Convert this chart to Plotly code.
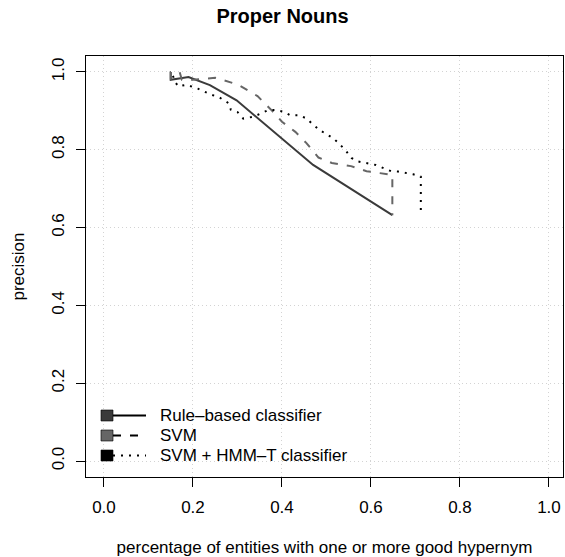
import plotly.graph_objects as go

# ---- data ----
rule_x = [0.150, 0.150, 0.190, 0.238, 0.298, 0.470, 0.648]
rule_y = [1.000, 0.980, 0.987, 0.966, 0.927, 0.761, 0.632]

svm_x = [0.150, 0.150, 0.170, 0.175, 0.200, 0.250, 0.300, 0.345, 0.378, 0.400,
         0.430, 0.455, 0.482, 0.512, 0.555, 0.590, 0.620, 0.648, 0.648]
svm_y = [0.980, 1.000, 1.000, 0.980, 0.980, 0.985, 0.968, 0.938, 0.900, 0.872,
         0.846, 0.817, 0.780, 0.766, 0.758, 0.745, 0.740, 0.735, 0.632]

hmm_x = [0.155, 0.160, 0.167, 0.186, 0.211, 0.238, 0.260, 0.281, 0.285, 0.300,
         0.313, 0.336, 0.350, 0.369, 0.387, 0.403, 0.418, 0.438, 0.454, 0.469,
         0.484, 0.500, 0.515, 0.530, 0.544, 0.556, 0.571, 0.611, 0.628, 0.645,
         0.661, 0.678, 0.695, 0.712, 0.712]
hmm_y = [0.990, 0.974, 0.963, 0.967, 0.957, 0.943, 0.934, 0.919, 0.903, 0.897,
         0.880, 0.885, 0.892, 0.902, 0.902, 0.898, 0.889, 0.889, 0.881, 0.865,
         0.851, 0.840, 0.830, 0.814, 0.797, 0.779, 0.770, 0.761, 0.752, 0.745,
         0.744, 0.741, 0.737, 0.731, 0.641]

series_names = ["Rule\u2013based classifier", "SVM", "SVM + HMM\u2013T classifier"]
series_colors = ["#3a3a3a", "#666666", "#000000"]
series_dash = ["solid", "8px,9px", "2px,6px"]

tick_vals = [0.0, 0.2, 0.4, 0.6, 0.8, 1.0]
tick_text = ["0.0", "0.2", "0.4", "0.6", "0.8", "1.0"]

FONT = "Liberation Sans, Arial, Helvetica, sans-serif"
FS = 17
W, H = 565, 557
L, R, T, B = 86, 2, 56, 80

fig = go.Figure()
for xs, ys, name, col, dash in zip([rule_x, svm_x, hmm_x], [rule_y, svm_y, hmm_y],
                                   series_names, series_colors, series_dash):
    fig.add_trace(go.Scatter(x=xs, y=ys, mode="lines", name=name,
                             line=dict(color=col, width=2, dash=dash),
                             showlegend=False, hoverinfo="skip"))

axis_common = dict(
    tickvals=tick_vals, ticktext=tick_text, ticks="outside", ticklen=9,
    tickwidth=1, tickcolor="black", showline=True, linecolor="black",
    linewidth=1, mirror=True, showgrid=True, gridcolor="#d3d3d3",
    griddash="1px,3px", gridwidth=1, zeroline=False, automargin=False,
    tickfont=dict(family=FONT, size=FS, color="black"),
)

fig.update_xaxes(range=[-0.0404, 1.0315], ticklabelstandoff=6,
                 title=dict(text="percentage of entities with one or more good hypernym",
                            font=dict(family=FONT, size=FS, color="black"), standoff=25),
                 **axis_common)
fig.update_yaxes(range=[-0.041, 1.041], tickangle=-90, ticklabelstandoff=5,
                 title=dict(text="precision", font=dict(family=FONT, size=FS, color="black"),
                            standoff=20),
                 **axis_common)

# ---- custom R-style legend (filled square + line sample) ----
pw, ph = W - L - R, H - T - B
def px(xp):
    return (xp - L) / pw
def py(yp):
    return 1 - (yp - T) / ph

rows = [415.5, 435.5, 455.5]
shapes = []
annotations = []
for yc, name, col, dash in zip(rows, series_names, series_colors, series_dash):
    shapes.append(dict(type="line", xref="paper", yref="paper",
                       x0=px(113), x1=px(146), y0=py(yc), y1=py(yc),
                       line=dict(color="black", width=2, dash=dash)))
    shapes.append(dict(type="rect", xref="paper", yref="paper",
                       x0=px(101), x1=px(113), y0=py(yc + 5.5), y1=py(yc - 5.5),
                       fillcolor=col, line=dict(color="black", width=0.6)))
    annotations.append(dict(text=name, xref="paper", yref="paper",
                            x=px(158), y=py(yc), xanchor="left", yanchor="middle",
                            showarrow=False,
                            font=dict(family=FONT, size=FS, color="black")))

fig.update_layout(
    width=W, height=H,
    margin=dict(l=L, r=R, t=T, b=B),
    paper_bgcolor="white", plot_bgcolor="white",
    title=dict(text="<b>Proper Nouns</b>", x=0.5, xanchor="center", y=1 - 16 / H,
               yanchor="middle", font=dict(family=FONT, size=20, color="black")),
    shapes=shapes, annotations=annotations,
    showlegend=False,
)

fig.write_html("out.html",
               config={"displayModeBar": False, "staticPlot": True},
               post_script="document.body.style.margin='0px';document.body.style.padding='0px';")
